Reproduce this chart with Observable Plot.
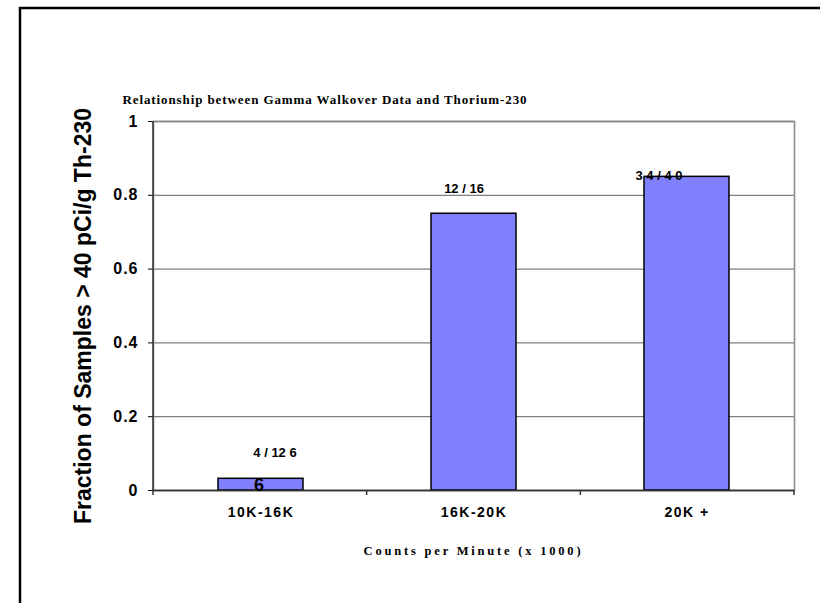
<!DOCTYPE html>
<html><head><meta charset="utf-8">
<script src="https://cdn.jsdelivr.net/npm/d3@7"></script>
<script src="https://cdn.jsdelivr.net/npm/@observablehq/plot@0.6"></script>
<style>body{margin:0;background:#fff}</style>
</head><body><div id="chart"></div>
<script>
const categories = ["10K-16K", "16K-20K", "20K +"];
const fractions = [0.0317, 0.75, 0.85];
const barLabels = ["4 / 12 6", "12 / 16", "3 4 / 4 0"];
const overflowLabels = ["6", "", ""];
const yTicks = [0, 0.2, 0.4, 0.6, 0.8, 1];
const yTickLabels = ["0", "0.2", "0.4", "0.6", "0.8", "1"];
const titleText = "Relationship between Gamma Walkover Data and Thorium-230";
const xTitleText = "Counts per Minute (x 1000)";
const yTitleText = "Fraction of Samples > 40 pCi/g Th-230";

const rows = categories.map((c, i) => ({cat: c, value: fractions[i], label: barLabels[i], extra: overflowLabels[i]}));
const labelDx = [14, -10, -28];
const labelDy = [-26, -25, -1];

const W = 820, H = 603, mL = 153, mR = 26, mT = 121, mB = 113;
const sans = "'Liberation Sans', Arial, sans-serif";
const serif = "'Liberation Serif', 'Times New Roman', serif";

const chart = Plot.plot({
  width: W, height: H, marginLeft: mL, marginRight: mR, marginTop: mT, marginBottom: mB,
  style: {background: "transparent", fontFamily: sans, overflow: "visible"},
  x: {domain: categories, paddingInner: 0.6, paddingOuter: 0.3, axis: null, label: null},
  y: {domain: [0, 1], axis: null, label: null},
  marks: [
    Plot.gridY(yTicks, {stroke: "#808080", strokeOpacity: 1, strokeWidth: 1.3}),
    Plot.frame({stroke: "#8c8c8c", strokeWidth: 1.6}),
    Plot.barY(rows, {x: "cat", y: "value", fill: "#8080FF", stroke: "#000", strokeWidth: 1.5}),
    Plot.ruleY([0], {stroke: "#333", strokeWidth: 1.5}),
    Plot.axisY(yTicks, {tickSize: 5, tickPadding: 10, tickFormat: d => yTickLabels[yTicks.indexOf(d)],
      fontSize: 16, fontWeight: "bold", color: "#000", label: null}),
    Plot.axisX({tickSize: 0, tickPadding: 17, fontSize: 14, fontWeight: "bold", color: "#000", label: null}),
    ...rows.map((r, i) => Plot.text([r], {x: "cat", y: "value", text: "label", dx: labelDx[i], dy: labelDy[i],
      fontSize: 13, fontWeight: "bold", fill: "#000"})),
    Plot.text(rows.filter(r => r.extra), {x: "cat", y: "value", text: "extra", dx: -2, dy: 6,
      fontSize: 18, fontWeight: "bold", fill: "#000"})
  ]
});
document.getElementById("chart").appendChild(chart);

const svg = d3.select(chart);
svg.selectAll('g[aria-label="y-axis tick label"] text').style("letter-spacing", "1px");
svg.selectAll('g[aria-label="x-axis tick label"] text').style("letter-spacing", "1.5px");

// y axis line
svg.append("line").attr("x1", mL).attr("x2", mL).attr("y1", mT).attr("y2", H - mB)
  .attr("stroke", "#333").attr("stroke-width", 1.5);

// category boundary ticks from the x scale range
const xs = chart.scale("x");
const [r0, r1] = xs.range;
const n = categories.length;
for (let i = 0; i <= n; i++) {
  const bx = r0 + i * (r1 - r0) / n;
  svg.append("line").attr("x1", bx).attr("x2", bx).attr("y1", H - mB).attr("y2", H - mB + 5)
    .attr("stroke", "#333").attr("stroke-width", 1.5);
}

// title
svg.append("text").attr("x", 325).attr("y", 104).attr("text-anchor", "middle")
  .style("font-family", serif).style("font-weight", "bold").style("font-size", "13px")
  .style("letter-spacing", "0.9px").attr("fill", "#000").text(titleText);

// x title
svg.append("text").attr("x", (mL + W - mR) / 2).attr("y", 555).attr("text-anchor", "middle")
  .style("font-family", serif).style("font-weight", "bold").style("font-size", "12.5px")
  .style("letter-spacing", "2.8px").attr("fill", "#000").text(xTitleText);

// y title
svg.append("text").attr("transform", "translate(91,316) rotate(-90)").attr("text-anchor", "middle")
  .style("font-family", sans).style("font-weight", "bold").style("font-size", "23px")
  .attr("fill", "#000").text(yTitleText);

// outer frame
svg.append("rect").attr("x", 20).attr("y", 8).attr("width", 900).attr("height", 700)
  .attr("fill", "none").attr("stroke", "#000").attr("stroke-width", 2.5);
</script>
</body></html>
